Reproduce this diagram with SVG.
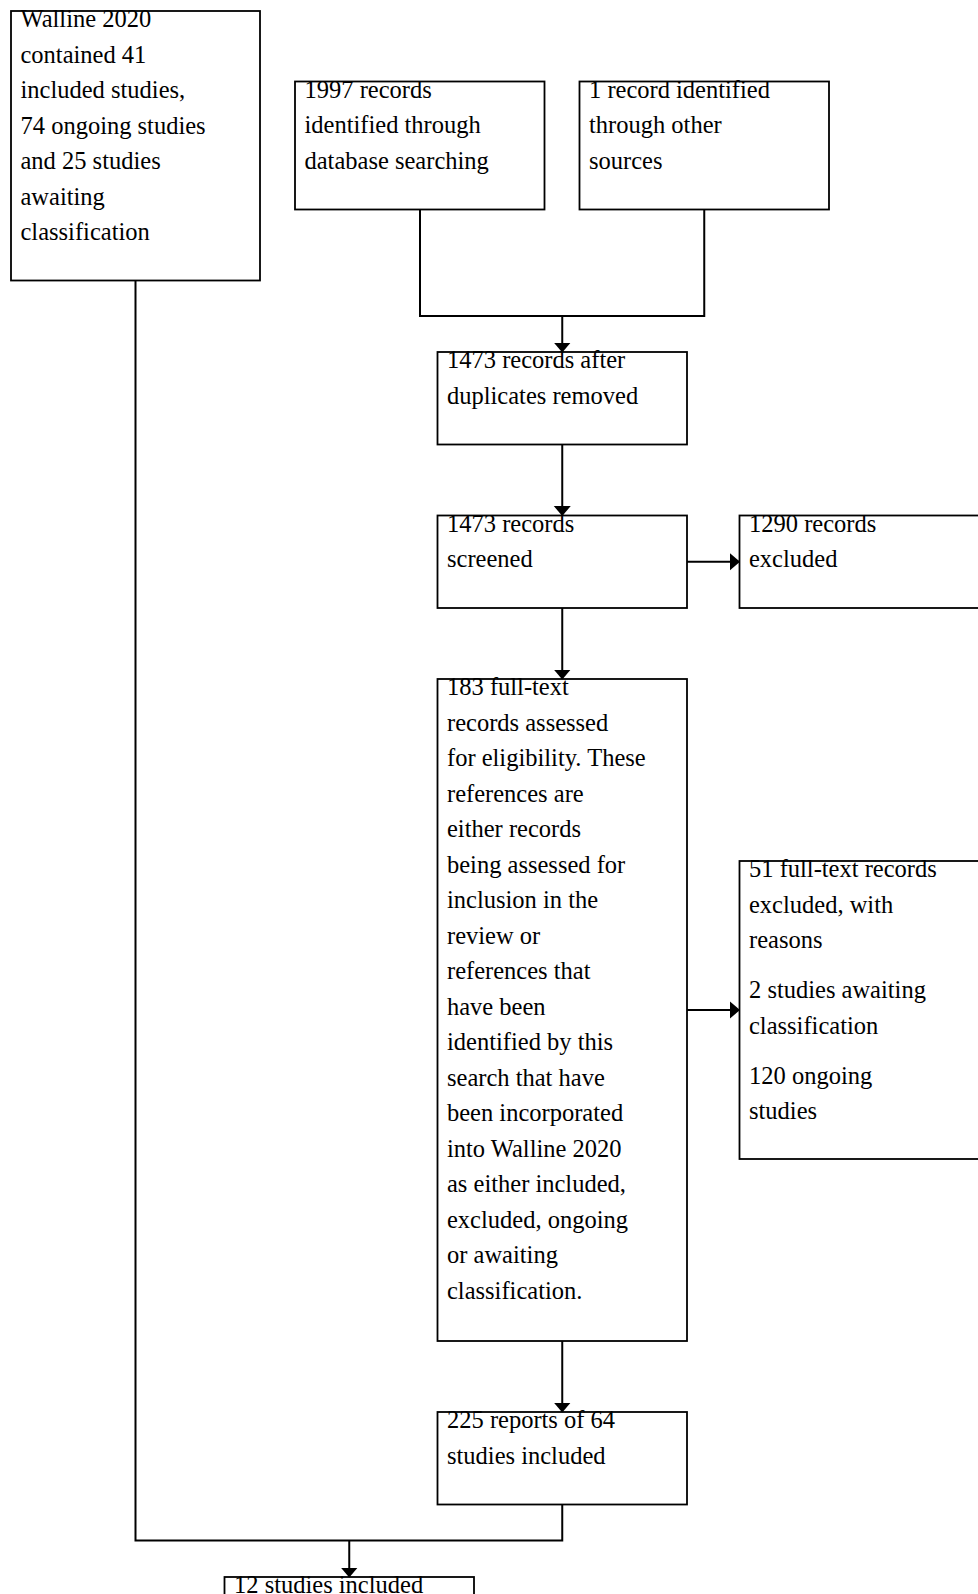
<svg xmlns="http://www.w3.org/2000/svg" width="978" height="1594" viewBox="0 0 978 1594">
<style>
.box{fill:#fff;stroke:#000;stroke-width:1.8}
.t{font-family:"Liberation Serif","Times New Roman",serif;font-size:24.5px;fill:#000}
.c{fill:none;stroke:#000;stroke-width:2}
</style>
<defs>
<marker id="ah" markerUnits="userSpaceOnUse" viewBox="0 0 10 18" refX="9.5" refY="9" markerWidth="10" markerHeight="18" orient="auto">
<path d="M0,0.5 L10,9 L0,17.5 z" fill="#000"/>
</marker>
</defs>
<rect width="978" height="1594" fill="#fff"/>
<g id="walline">
<rect class="box" x="11" y="11" width="249" height="269.5"/>
<text class="t" x="20.5" y="27">Walline 2020</text>
<text class="t" x="20.5" y="62.5">contained 41</text>
<text class="t" x="20.5" y="98">included studies,</text>
<text class="t" x="20.5" y="133.5">74 ongoing studies</text>
<text class="t" x="20.5" y="169">and 25 studies</text>
<text class="t" x="20.5" y="204.5">awaiting</text>
<text class="t" x="20.5" y="240">classification</text>
</g>
<g id="database">
<rect class="box" x="295" y="81.5" width="249.5" height="128"/>
<text class="t" x="304.5" y="97.5">1997 records</text>
<text class="t" x="304.5" y="133">identified through</text>
<text class="t" x="304.5" y="168.5">database searching</text>
</g>
<g id="other">
<rect class="box" x="579.5" y="81.5" width="249.5" height="128"/>
<text class="t" x="589" y="97.5">1 record identified</text>
<text class="t" x="589" y="133">through other</text>
<text class="t" x="589" y="168.5">sources</text>
</g>
<g id="dedup">
<rect class="box" x="437.5" y="352" width="249.5" height="92.5"/>
<text class="t" x="447" y="368">1473 records after</text>
<text class="t" x="447" y="403.5">duplicates removed</text>
</g>
<g id="screened">
<rect class="box" x="437.5" y="515.5" width="249.5" height="92.5"/>
<text class="t" x="447" y="531.5">1473 records</text>
<text class="t" x="447" y="567">screened</text>
</g>
<g id="excluded">
<rect class="box" x="739.5" y="515.5" width="260" height="92.5"/>
<text class="t" x="749" y="531.5">1290 records</text>
<text class="t" x="749" y="567">excluded</text>
</g>
<g id="fulltext">
<rect class="box" x="437.5" y="679" width="249.5" height="662"/>
<text class="t" x="447" y="695">183 full-text</text>
<text class="t" x="447" y="730.5">records assessed</text>
<text class="t" x="447" y="766">for eligibility. These</text>
<text class="t" x="447" y="801.5">references are</text>
<text class="t" x="447" y="837">either records</text>
<text class="t" x="447" y="872.5">being assessed for</text>
<text class="t" x="447" y="908">inclusion in the</text>
<text class="t" x="447" y="943.5">review or</text>
<text class="t" x="447" y="979">references that</text>
<text class="t" x="447" y="1014.5">have been</text>
<text class="t" x="447" y="1050">identified by this</text>
<text class="t" x="447" y="1085.5">search that have</text>
<text class="t" x="447" y="1121">been incorporated</text>
<text class="t" x="447" y="1156.5">into Walline 2020</text>
<text class="t" x="447" y="1192">as either included,</text>
<text class="t" x="447" y="1227.5">excluded, ongoing</text>
<text class="t" x="447" y="1263">or awaiting</text>
<text class="t" x="447" y="1298.5">classification.</text>
</g>
<g id="ftexcluded">
<rect class="box" x="739.5" y="861" width="260" height="298"/>
<text class="t" x="749" y="877">51 full-text records</text>
<text class="t" x="749" y="912.5">excluded, with</text>
<text class="t" x="749" y="948">reasons</text>
<text class="t" x="749" y="998">2 studies awaiting</text>
<text class="t" x="749" y="1033.5">classification</text>
<text class="t" x="749" y="1083.5">120 ongoing</text>
<text class="t" x="749" y="1119">studies</text>
</g>
<g id="reports">
<rect class="box" x="437.5" y="1412" width="249.5" height="92.5"/>
<text class="t" x="447" y="1428">225 reports of 64</text>
<text class="t" x="447" y="1463.5">studies included</text>
</g>
<g id="final">
<rect class="box" x="224.5" y="1577" width="249.5" height="40"/>
<text class="t" x="234" y="1593">12 studies included</text>
</g>
<g id="connectors">
<path class="c" d="M420,209.5 V316 H704.25 V209.5"/>
<path class="c" d="M562.25,316 V352" marker-end="url(#ah)"/>
<path class="c" d="M562.25,444.5 V515.5" marker-end="url(#ah)"/>
<path class="c" d="M687,561.75 H739.5" marker-end="url(#ah)"/>
<path class="c" d="M562.25,608 V679" marker-end="url(#ah)"/>
<path class="c" d="M687,1010 H739.5" marker-end="url(#ah)"/>
<path class="c" d="M562.25,1341 V1412" marker-end="url(#ah)"/>
<path class="c" d="M135.5,280.5 V1540.5 H562.25 V1504.5"/>
<path class="c" d="M349.25,1540.5 V1577" marker-end="url(#ah)"/>
</g>
</svg>
